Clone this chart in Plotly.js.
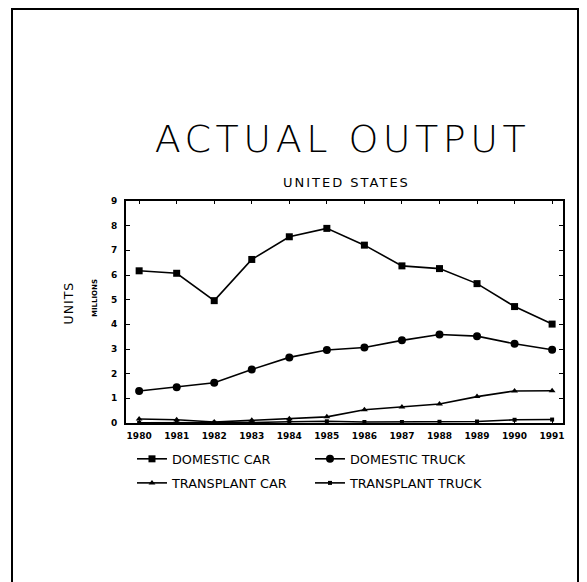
<!DOCTYPE html>
<html>
<head>
<meta charset="utf-8">
<script src="https://cdn.plot.ly/plotly-3.0.1.min.js"></script>
<style>
html,body{margin:0;padding:0;background:#fff;}
#chart{width:587px;height:582px;}
.gtitle{letter-spacing:4.5px;}
.annotation[data-index="0"] .annotation-text{letter-spacing:2px;}
.annotation[data-index="1"] .annotation-text{letter-spacing:1px;}
</style>
</head>
<body>
<div id="chart"></div>
<script>
const years = [1980,1981,1982,1983,1984,1985,1986,1987,1988,1989,1990,1991];
const domesticCar = [6.17,6.07,4.96,6.63,7.55,7.89,7.21,6.37,6.26,5.65,4.72,4.01];
const domesticTruck = [1.30,1.45,1.63,2.17,2.66,2.96,3.06,3.35,3.59,3.52,3.21,2.97];
const transplantCar = [0.16,0.13,0.04,0.11,0.17,0.25,0.54,0.65,0.77,1.07,1.30,1.31];
const transplantTruck = [0.01,0.01,0.01,0.02,0.05,0.07,0.04,0.04,0.05,0.06,0.13,0.14];
const seriesNames = ['DOMESTIC CAR','DOMESTIC TRUCK','TRANSPLANT CAR','TRANSPLANT TRUCK'];
const yTicks = [0,1,2,3,4,5,6,7,8,9];

const FAM = 'DejaVu Sans, sans-serif';
const lineStyle = {color:'#000', width:1.6};
function tr(y, name, symbol, size, leg){
  return {x:years, y:y, name:name, type:'scatter', mode:'lines+markers', legend:leg,
    line:lineStyle, marker:{color:'#000', symbol:symbol, size:size}, cliponaxis:false};
}
const data = [
  tr(domesticCar, seriesNames[0], 'square', 7, 'legend'),
  tr(domesticTruck, seriesNames[1], 'circle', 8, 'legend'),
  tr(transplantCar, seriesNames[2], 'triangle-up', 6, 'legend2'),
  tr(transplantTruck, seriesNames[3], 'square', 4, 'legend2')
];

const legCommon = {orientation:'h', xanchor:'left', yanchor:'top', entrywidth:133, entrywidthmode:'pixels',
  font:{family:FAM, size:12.8, color:'#000'}, bgcolor:'rgba(0,0,0,0)', itemclick:false};

const layout = {
  width:587, height:582,
  margin:{l:126, r:24, t:201, b:159},
  paper_bgcolor:'#fff', plot_bgcolor:'#fff',
  showlegend:true,
  font:{family:FAM, color:'#000'},
  title:{text:'ACTUAL OUTPUT', font:{family:'DejaVu Sans ExtraLight, DejaVu Sans, sans-serif', size:38, color:'#000', weight:200},
    x:0.5835, xref:'container', xanchor:'center', y:0.761, yref:'container', yanchor:'middle'},
  xaxis:{range:[1979.65,1991.29], tickvals:years, ticktext:years.map(String),
    tickfont:{family:FAM, size:9, weight:'bold'}, ticks:'inside', ticklen:3, tickcolor:'#000', ticklabelstandoff:3,
    showline:true, linecolor:'#000', linewidth:2, mirror:'ticks', showgrid:false, zeroline:false, fixedrange:true},
  yaxis:{range:[0,9], tickvals:yTicks, tickfont:{family:FAM, size:9, weight:'bold'}, ticks:'inside', ticklen:4, tickcolor:'#000', ticklabelstandoff:5,
    showline:true, linecolor:'#000', linewidth:2, mirror:'ticks', showgrid:false, zeroline:false, fixedrange:true},
  legend:Object.assign({x:0.0137, y:-0.0946}, legCommon),
  legend2:Object.assign({x:0.0137, y:-0.203}, legCommon),
  annotations:[
    {text:'UNITED STATES', xref:'paper', yref:'paper', x:(346.5-126)/437, y:(423-182.5)/222, xanchor:'center', yanchor:'middle', showarrow:false, font:{family:FAM, size:13, color:'#000'}},
    {text:'UNITS', xref:'paper', yref:'paper', x:(68-126)/437, y:(423-303)/222, xanchor:'center', yanchor:'middle', textangle:-90, showarrow:false, font:{family:FAM, size:12.5, color:'#000'}},
    {text:'MILLIONS', xref:'paper', yref:'paper', x:(95-126)/437, y:(423-298)/222, xanchor:'center', yanchor:'middle', textangle:-90, showarrow:false, font:{family:FAM, size:7, color:'#000', weight:'bold'}}
  ],
  shapes:[
    {type:'path', xref:'paper', yref:'paper', path:'M '+((12-126)/437)+' '+((423-590)/222)+' L '+((12-126)/437)+' '+((423-9)/222)+' L '+((578-126)/437)+' '+((423-9)/222)+' L '+((578-126)/437)+' '+((423-590)/222),
     line:{color:'#000', width:2}}
  ]
};
Plotly.newPlot('chart', data, layout, {displayModeBar:false, staticPlot:true});
</script>
</body>
</html>
